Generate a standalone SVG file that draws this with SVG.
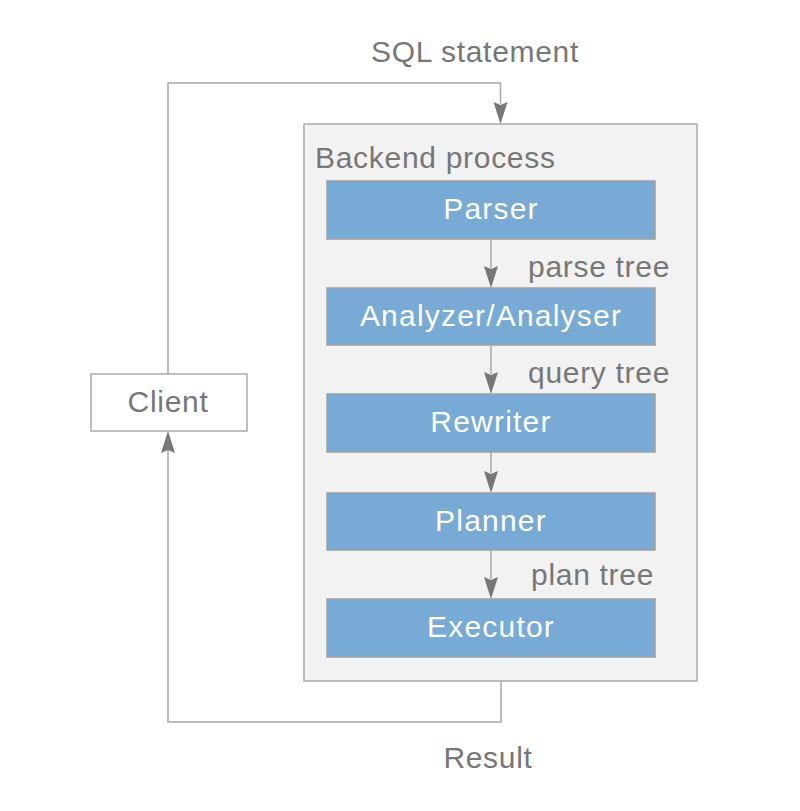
<svg xmlns="http://www.w3.org/2000/svg" width="800" height="811" viewBox="0 0 800 811">
<style>
  .lbl { font-family: "Liberation Sans", Arial, sans-serif; font-size: 30px; fill: #777777; letter-spacing: 0.7px; }
  .wlbl { font-family: "Liberation Sans", Arial, sans-serif; font-size: 30px; fill: #ffffff; text-anchor: middle; letter-spacing: 1.2px; }
  .blue { fill: #78aad6; stroke: #a0a0a0; stroke-width: 1.5; }
  .conn { fill: none; stroke: #a8a8a8; stroke-width: 1.5; }
  .head { fill: #777777; }
</style>
<defs>
  <path id="ahDown" d="M-7,-22 L0,-19 L7,-22 L0,0 Z"/>
</defs>
<rect width="800" height="811" fill="#ffffff"/>

<g id="backend">
  <rect x="304" y="124" width="393" height="557" fill="#f2f2f2" stroke="#aaaaaa" stroke-width="1.5"/>
  <text class="lbl" x="315" y="168">Backend process</text>
</g>

<g id="client">
  <rect x="91" y="374" width="156" height="57" fill="#ffffff" stroke="#aaaaaa" stroke-width="1.5"/>
  <text class="lbl" x="168" y="412" text-anchor="middle">Client</text>
</g>

<g id="parser">
  <rect class="blue" x="327" y="181" width="328" height="58"/>
  <text class="wlbl" x="491" y="219">Parser</text>
</g>
<g id="analyzer">
  <rect class="blue" x="327" y="288" width="328" height="57"/>
  <text class="wlbl" x="491" y="326">Analyzer/Analyser</text>
</g>
<g id="rewriter">
  <rect class="blue" x="327" y="394" width="328" height="58"/>
  <text class="wlbl" x="491" y="432">Rewriter</text>
</g>
<g id="planner">
  <rect class="blue" x="327" y="493" width="328" height="57"/>
  <text class="wlbl" x="491" y="531">Planner</text>
</g>
<g id="executor">
  <rect class="blue" x="327" y="599" width="328" height="58"/>
  <text class="wlbl" x="491" y="637">Executor</text>
</g>

<g id="connectors">
  <path class="conn" d="M168,374 V83 H500.5 V104"/>
  <use href="#ahDown" class="head" transform="translate(500.5,124)"/>
  <text class="lbl" x="475" y="62" text-anchor="middle">SQL statement</text>

  <path class="conn" d="M501,681 V722 H168 V448"/>
  <use href="#ahDown" class="head" transform="translate(168,431) rotate(180)"/>
  <text class="lbl" x="488" y="768" text-anchor="middle">Result</text>

  <path class="conn" d="M491,239 V268"/>
  <use href="#ahDown" class="head" transform="translate(491,288)"/>
  <text class="lbl" x="528" y="277">parse tree</text>

  <path class="conn" d="M491,345 V374"/>
  <use href="#ahDown" class="head" transform="translate(491,394)"/>
  <text class="lbl" x="528" y="383">query tree</text>

  <path class="conn" d="M491,452 V473"/>
  <use href="#ahDown" class="head" transform="translate(491,493)"/>

  <path class="conn" d="M491,550 V579"/>
  <use href="#ahDown" class="head" transform="translate(491,599)"/>
  <text class="lbl" x="531" y="585">plan tree</text>
</g>
</svg>
